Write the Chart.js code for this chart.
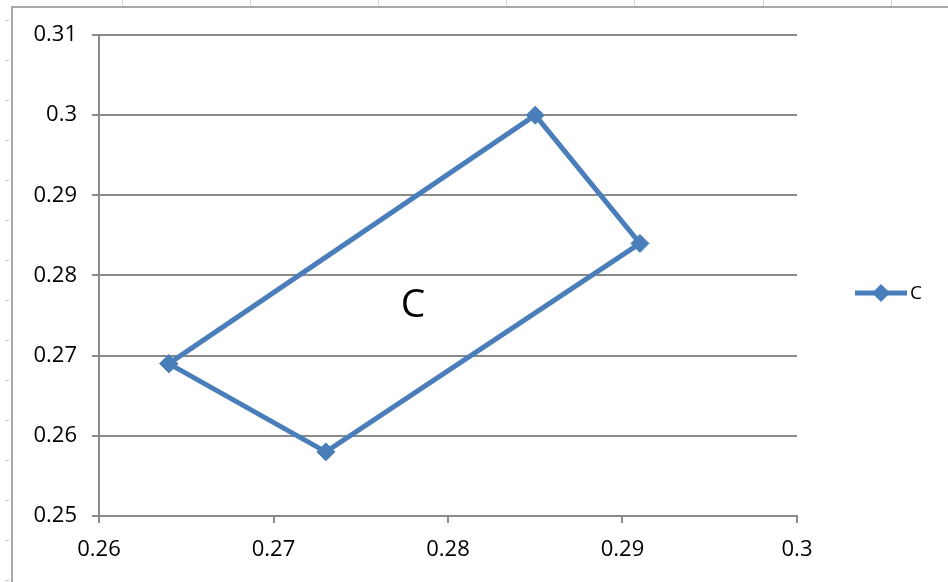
<!DOCTYPE html>
<html lang="en">
<head>
  <meta charset="UTF-8" />
  <title>C</title>
  <script src="https://cdn.jsdelivr.net/npm/chart.js"></script>
  <style>
    html, body { margin: 0; padding: 0; background: #fff; }
    #wrap { position: relative; width: 948px; height: 582px; overflow: hidden; }
    .cell { position: absolute; top: 0; width: 1px; height: 7px; background: #d4d4d4; }
    .row { position: absolute; left: 5px; width: 4px; height: 1px; background: #c8c8c8; }
    #frame { position: absolute; left: 11px; top: 6px; width: 960px; height: 600px;
             border-left: 2px solid #a8a8a8; border-top: 2px solid #a8a8a8; }
    canvas { position: absolute; left: 0; top: 0; }
  </style>
</head>
<body>
  <div id="wrap">
    <div id="frame"></div>
    <canvas id="chart" width="948" height="582"></canvas>
  </div>

  <script>
    // series C (closed loop, first point repeated at the end)
    const xValues = [0.264, 0.285, 0.291, 0.273, 0.264];
    const yValues = [0.269, 0.300, 0.284, 0.258, 0.269];
    const seriesName = 'C';
    const xTicks = [0.26, 0.27, 0.28, 0.29, 0.3];
    const yTicks = [0.25, 0.26, 0.27, 0.28, 0.29, 0.3, 0.31];

    const blue = '#4a7ebb';
    const gridGray = '#8a8a8a';
    const font = { family: '"Open Sans", sans-serif', size: 22 };

    // spreadsheet cell lines behind the chart
    const wrap = document.getElementById('wrap');
    [122, 250, 378, 506, 634, 763, 891].forEach(x => {
      const d = document.createElement('div');
      d.className = 'cell';
      d.style.left = x + 'px';
      wrap.insertBefore(d, wrap.firstChild);
    });
    for (let y = 20; y < 582; y += 40) {
      const d = document.createElement('div');
      d.className = 'row';
      d.style.top = y + 'px';
      wrap.insertBefore(d, wrap.firstChild);
    }

    const points = xValues.map((x, i) => ({ x: x, y: yValues[i] }));
    const fmt = v => String(parseFloat(v.toFixed(2)));

    // legend on the right and the "C" label inside the loop
    const extras = {
      id: 'extras',
      afterDraw(chart) {
        const ctx = chart.ctx;
        ctx.save();
        ctx.strokeStyle = blue;
        ctx.fillStyle = blue;
        ctx.lineWidth = 5;
        ctx.beginPath();
        ctx.moveTo(855, 293);
        ctx.lineTo(907, 293);
        ctx.stroke();
        ctx.beginPath();
        ctx.moveTo(881, 284);
        ctx.lineTo(890, 293);
        ctx.lineTo(881, 302);
        ctx.lineTo(872, 293);
        ctx.closePath();
        ctx.fill();

        ctx.fillStyle = '#000';
        ctx.textBaseline = 'middle';
        ctx.textAlign = 'left';
        ctx.font = '19px "Open Sans", sans-serif';
        ctx.fillText(seriesName, 910, 294);

        const xs = chart.scales.x, ys = chart.scales.y;
        ctx.textAlign = 'center';
        ctx.font = '39px "Open Sans", sans-serif';
        ctx.fillText(seriesName, xs.getPixelForValue(0.2780), ys.getPixelForValue(0.2762));
        ctx.restore();
      }
    };

    new Chart(document.getElementById('chart'), {
      type: 'scatter',
      data: {
        datasets: [{
          label: seriesName,
          data: points,
          showLine: true,
          borderColor: blue,
          backgroundColor: blue,
          borderWidth: 5,
          pointStyle: 'rectRot',
          pointRadius: 9,
          pointBorderWidth: 1,
          tension: 0
        }]
      },
      options: {
        responsive: false,
        animation: false,
        events: [],
        layout: { padding: { left: 0, top: 35, right: 151, bottom: 0 } },
        plugins: { legend: { display: false }, tooltip: { enabled: false } },
        scales: {
          x: {
            type: 'linear',
            min: xTicks[0],
            max: xTicks[xTicks.length - 1],
            afterBuildTicks: s => { s.ticks = xTicks.map(v => ({ value: v })); },
            afterFit: s => { s.height = 66; },
            ticks: { callback: fmt, color: '#000', font: font, padding: 14, maxRotation: 0 },
            grid: { drawOnChartArea: false, color: gridGray, lineWidth: 2, tickLength: 7 },
            border: { color: gridGray, width: 2 }
          },
          y: {
            type: 'linear',
            min: yTicks[0],
            max: yTicks[yTicks.length - 1],
            afterBuildTicks: s => { s.ticks = yTicks.map(v => ({ value: v })); },
            afterFit: s => { s.width = 99; },
            ticks: { callback: fmt, color: '#000', font: font, padding: 15 },
            grid: { color: gridGray, lineWidth: 2, tickLength: 7 },
            border: { color: gridGray, width: 2 }
          }
        }
      },
      plugins: [extras]
    });
  </script>
</body>
</html>
